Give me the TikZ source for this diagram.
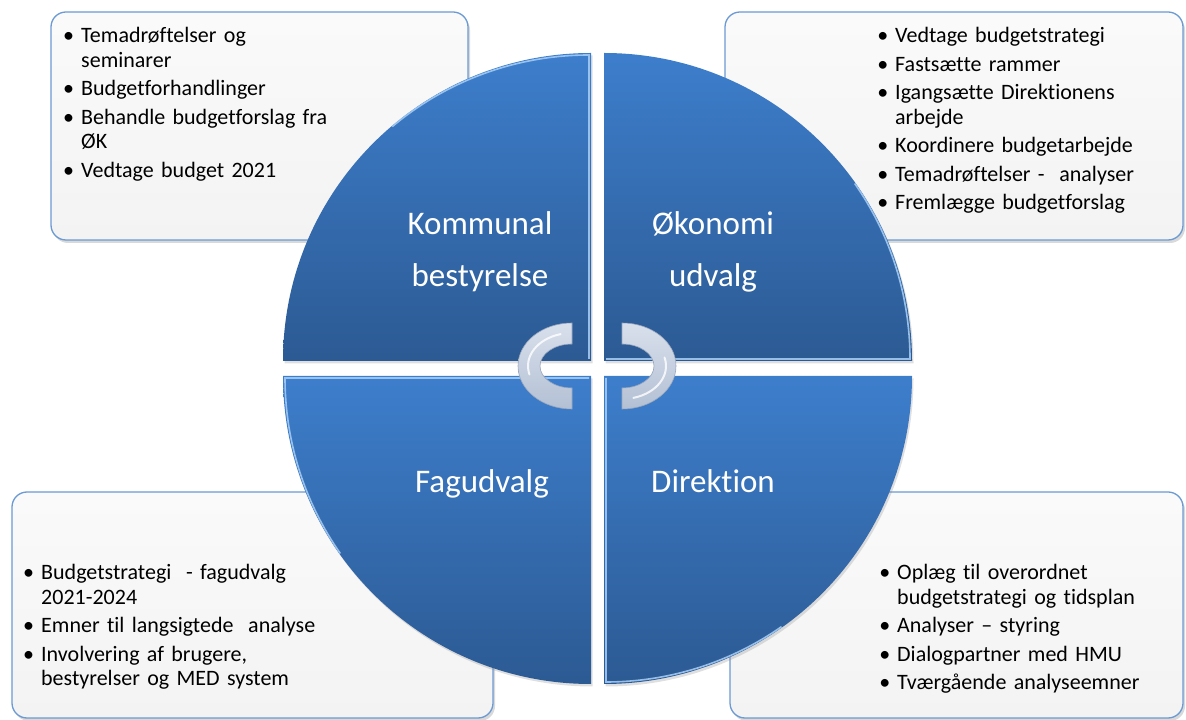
\documentclass[tikz,border=0pt]{standalone}
\usepackage{fontspec}
\setmainfont[Ligatures={NoCommon}]{Carlito}
\usepackage{enumitem}
\usetikzlibrary{shadows}

\definecolor{secTop}{HTML}{3D7ECC}
\definecolor{secBot}{HTML}{2C5A93}
\definecolor{boxLine}{HTML}{6C9AD3}
\definecolor{boxFill}{HTML}{F3F3F3}
\definecolor{glansBlue}{HTML}{A9D0F7}
\definecolor{ringTop}{HTML}{D9E0EC}
\definecolor{ringBot}{HTML}{B3C0D4}
\definecolor{ringLine}{HTML}{98A6BC}

\newcommand{\punkter}[1]{%
  \begin{itemize}[leftmargin=13pt,labelsep=7pt,itemsep=4pt,topsep=0pt,partopsep=0pt,parsep=0pt,label=\textbullet]
  #1
  \end{itemize}}

\tikzset{
  boks/.style={draw=boxLine, line width=1.3pt, rounded corners=15pt, top color=white!60!boxFill, bottom color=boxFill,
    drop shadow={opacity=.3, shadow xshift=2pt, shadow yshift=-3pt}},
  sektor/.style={top color=secTop, bottom color=secBot,
    drop shadow={opacity=.25, shadow xshift=1.5pt, shadow yshift=-2.5pt}},
  glans/.style={draw=glansBlue, line width=1.6pt, opacity=.85},
  ring/.style={top color=ringTop, bottom color=ringBot, draw=ringLine, line width=.6pt},
  ringglans/.style={draw=white, line width=2pt, opacity=.8, line cap=round},
  seclabel/.style={text=white, align=center, font=\fontsize{33}{52}\selectfont},
  liste/.style={anchor=north west, inner sep=0pt, text width=400pt, align=left, font=\fontsize{22}{24.5}\selectfont},
}

\begin{document}
\begin{tikzpicture}[x=1pt, y=1pt]
  \useasboundingbox (0,0) rectangle (1186,720);

  % text boxes
  \path[boks] (51,708) rectangle (468,480);
  \path[boks] (725,708) rectangle (1183,480);
  \path[boks] (12,228) rectangle (493,2);
  \path[boks] (730,228) rectangle (1183,2);

  \node[liste] (kbliste) at (68,702) {\punkter{
    \item Temadrøftelser og\newline seminarer
    \item Budgetforhandlinger
    \item Behandle budgetforslag fra\newline ØK
    \item Vedtage budget 2021}};
  \node[liste] (oeliste) at (882,702) {\punkter{
    \item Vedtage budgetstrategi
    \item Fastsætte rammer
    \item Igangsætte Direktionens\newline arbejde
    \item Koordinere budgetarbejde
    \item Temadrøftelser -\ \ analyser
    \item Fremlægge budgetforslag}};
  \node[liste] (fagliste) at (28,165) {\punkter{
    \item Budgetstrategi\ \ - fagudvalg\newline 2021-2024
    \item Emner til langsigtede\ \ analyse
    \item Involvering af brugere,\newline bestyrelser og MED system}};
  \node[liste] (dirliste) at (884,165) {\punkter{
    \item Oplæg til overordnet\newline budgetstrategi og tidsplan
    \item Analyser – styring
    \item Dialogpartner med HMU
    \item Tværgående analyseemner}};

  % quarter sectors
  \path[sektor] (591,359) -- (283,359) arc[start angle=180, end angle=90, radius=308] -- cycle;
  \path[sektor] (604,359) -- (604,667) arc[start angle=90, end angle=0, radius=308] -- cycle;
  \path[sektor] (591,344) -- (591,36) arc[start angle=270, end angle=180, radius=308] -- cycle;
  \path[sektor] (604,344) -- (912,344) arc[start angle=0, end angle=-90, radius=308] -- cycle;

  \draw[glans] (589,361) -- (589,665) arc[start angle=90, end angle=130, radius=306];
  \draw[glans] (606,361) -- (910,361) arc[start angle=0, end angle=35, radius=306];
  \draw[glans] (589,342) -- (285,342) arc[start angle=180, end angle=215, radius=306];
  \draw[glans] (606,342) -- (606,38) arc[start angle=270, end angle=305, radius=306];

  \node[seclabel] (kb) at (480,468) {Kommunal\\bestyrelse};
  \node[seclabel] (oe) at (713,468) {Økonomi\\udvalg};
  \node[seclabel, anchor=base] (fag) at (482,227) {Fagudvalg};
  \node[seclabel, anchor=base] (dir) at (713,227) {Direktion};

  % centre arrows
  \path[ring] (572,397) arc[start angle=90, end angle=270, x radius=54, y radius=43]
    -- (572,332) arc[start angle=270, end angle=90, x radius=32, y radius=22] -- cycle;
  \path[ring] (622,397) arc[start angle=90, end angle=-90, x radius=54, y radius=43]
    -- (622,332) arc[start angle=-90, end angle=90, x radius=32, y radius=22] -- cycle;
  \draw[ringglans] (572,354) ++(105:44 and 33) arc[start angle=105, end angle=195, x radius=44, y radius=33];
  \draw[ringglans] (622,354) ++(-75:44 and 33) arc[start angle=-75, end angle=15, x radius=44, y radius=33];
\end{tikzpicture}
\end{document}
